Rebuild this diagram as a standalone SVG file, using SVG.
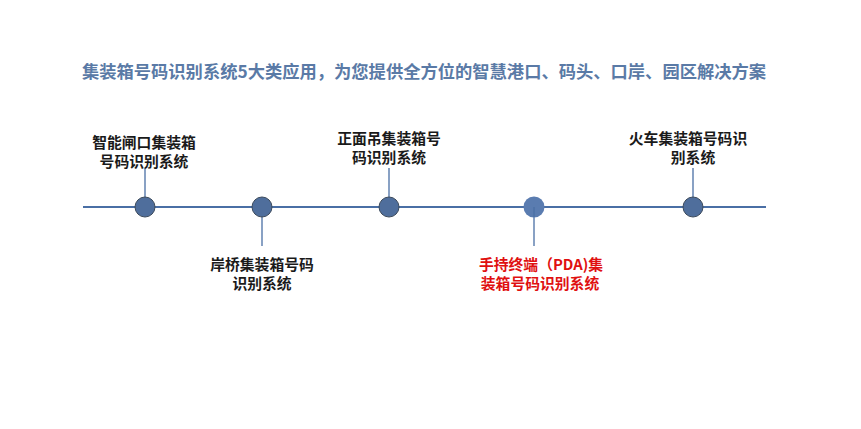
<svg xmlns="http://www.w3.org/2000/svg" width="861" height="429" viewBox="0 0 861 429">
<defs>
<style>
.t{font-family:"Noto Sans CJK SC","Liberation Sans",sans-serif;font-weight:bold;font-size:14.8px;text-anchor:middle;fill:#1a1a1a}
.r{fill:#e01010}
.title{font-family:"Noto Sans CJK SC","Liberation Sans",sans-serif;font-weight:bold;font-size:17.3px;text-anchor:middle;fill:#5a7aa6}
.ln{stroke:#4a6fa5;stroke-width:1.3;fill:none}
.axis{stroke:#4a6fa5;stroke-width:2;fill:none}
.dot{fill:#4f6e9c;stroke:#3d4b5c;stroke-width:1}
</style>
<filter id="glow" x="-50%" y="-50%" width="200%" height="200%"><feGaussianBlur stdDeviation="0.5"/></filter>
</defs>
<rect width="861" height="429" fill="#ffffff"/>
<text class="title" x="424" y="78">集装箱号码识别系统5大类应用，为您提供全方位的智慧港口、码头、口岸、园区解决方案</text>
<g id="connectors">
<line class="axis" x1="83" y1="207" x2="766" y2="207"/>
<line class="ln" x1="145" y1="168" x2="145" y2="207"/>
<line class="ln" x1="262" y1="207" x2="262" y2="246"/>
<line class="ln" x1="389" y1="168" x2="389" y2="207"/>
<line class="ln" x1="534" y1="207" x2="534" y2="246"/>
<line class="ln" x1="693" y1="168" x2="693" y2="207"/>
</g>
<g id="node1">
<circle class="dot" cx="145" cy="207" r="10"/>
<text class="t" x="144" y="148">智能闸口集装箱</text>
<text class="t" x="144" y="167">号码识别系统</text>
</g>
<g id="node2">
<circle class="dot" cx="262" cy="207" r="10"/>
<text class="t" x="262" y="270">岸桥集装箱号码</text>
<text class="t" x="262" y="289">识别系统</text>
</g>
<g id="node3">
<circle class="dot" cx="389" cy="207" r="10"/>
<text class="t" x="389" y="144">正面吊集装箱号</text>
<text class="t" x="389" y="163">码识别系统</text>
</g>
<g id="node4">
<circle cx="534" cy="207" r="10.5" fill="#5a7cb0" filter="url(#glow)"/>
<line class="ln" x1="534" y1="207" x2="534" y2="217"/>
<text class="t r" x="541" y="270">手持终端（PDA)集</text>
<text class="t r" x="540" y="289">装箱号码识别系统</text>
</g>
<g id="node5">
<circle class="dot" cx="693" cy="207" r="10"/>
<text class="t" x="688" y="144">火车集装箱号码识</text>
<text class="t" x="693" y="163">别系统</text>
</g>
</svg>
